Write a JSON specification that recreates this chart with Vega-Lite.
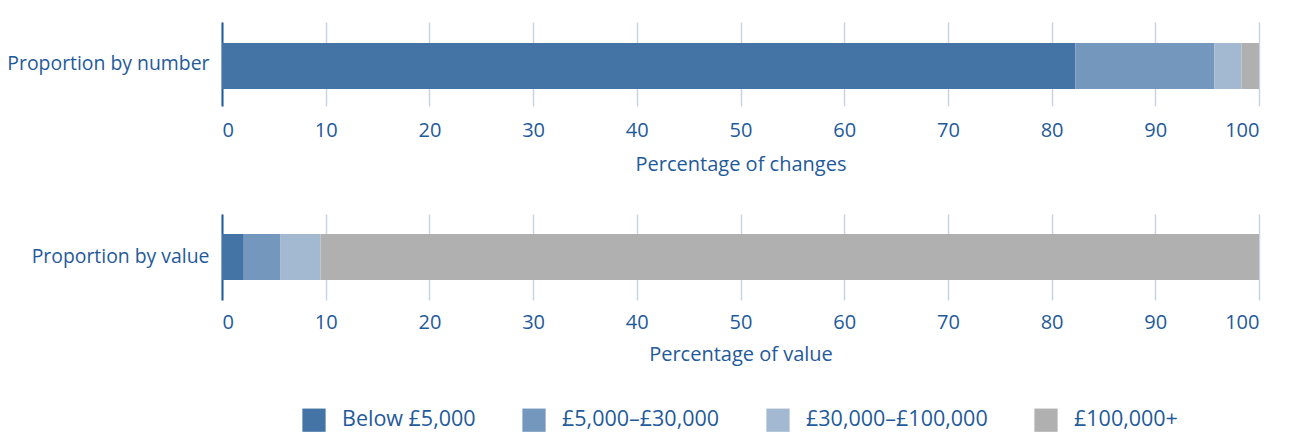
{
  "$schema": "https://vega.github.io/schema/vega-lite/v6.json",
  "padding": {"left": 6, "top": 22, "right": 10, "bottom": 2},
  "background": "white",
  "datasets": {
    "rows": [
      {"panel": "number", "label": "Proportion by number", "band": "Below £5,000", "order": 1, "pct": 82.3},
      {"panel": "number", "label": "Proportion by number", "band": "£5,000–£30,000", "order": 2, "pct": 13.4},
      {"panel": "number", "label": "Proportion by number", "band": "£30,000–£100,000", "order": 3, "pct": 2.6},
      {"panel": "number", "label": "Proportion by number", "band": "£100,000+", "order": 4, "pct": 1.7},
      {"panel": "value", "label": "Proportion by value", "band": "Below £5,000", "order": 1, "pct": 2.1},
      {"panel": "value", "label": "Proportion by value", "band": "£5,000–£30,000", "order": 2, "pct": 3.5},
      {"panel": "value", "label": "Proportion by value", "band": "£30,000–£100,000", "order": 3, "pct": 3.9},
      {"panel": "value", "label": "Proportion by value", "band": "£100,000+", "order": 4, "pct": 90.5}
    ]
  },
  "config": {
    "font": "Open Sans",
    "view": {"stroke": null},
    "concat": {"spacing": 40},
    "axis": {
      "labelColor": "#1f5a9a",
      "titleColor": "#1f5a9a",
      "labelFontSize": 20,
      "titleFontSize": 20,
      "titleFontWeight": "normal",
      "labelLimit": 400,
      "ticks": false
    },
    "legend": {
      "labelColor": "#1f5a9a",
      "labelFontSize": 21.5,
      "labelLimit": 400,
      "symbolType": "square",
      "symbolSize": 540,
      "symbolStrokeWidth": 0,
      "labelOffset": 16,
      "columnPadding": 46
    }
  },
  "vconcat": [
    {
      "width": 1037,
      "height": 84,
      "data": {"name": "rows"},
      "transform": [{"filter": "datum.panel === 'number'"}],
      "mark": {"type": "bar", "height": 46, "yOffset": 2},
      "encoding": {
        "y": {"field": "label", "type": "nominal", "axis": {"title": null, "domain": true, "domainColor": "#1f5a9a", "domainWidth": 2, "labelPadding": 13, "labelFontSize": 19.4, "grid": false}},
        "x": {"field": "pct", "type": "quantitative", "stack": "zero", "scale": {"domain": [0, 100], "nice": false}, "axis": {"title": "Percentage of changes", "values": [0,10,20,30,40,50,60,70,80,90,100], "grid": true, "gridColor": "#c6d4e4", "gridWidth": 1.5, "domain": false, "labelPadding": 14, "titlePadding": 14}},
        "color": {"field": "band", "type": "nominal", "sort": ["Below £5,000", "£5,000–£30,000", "£30,000–£100,000", "£100,000+"], "scale": {"domain": ["Below £5,000", "£5,000–£30,000", "£30,000–£100,000", "£100,000+"], "range": ["#4474a5", "#7397bd", "#a3b9d2", "#b0b0b0"]}, "legend": {"title": null, "orient": "none", "direction": "horizontal", "legendX": 80, "legendY": 386}},
        "order": {"field": "order", "type": "quantitative"}
      }
    },
    {
      "width": 1037,
      "height": 86,
      "data": {"name": "rows"},
      "transform": [{"filter": "datum.panel === 'value'"}],
      "mark": {"type": "bar", "height": 46},
      "encoding": {
        "y": {"field": "label", "type": "nominal", "axis": {"title": null, "domain": true, "domainColor": "#1f5a9a", "domainWidth": 2, "labelPadding": 13, "labelFontSize": 19.4, "grid": false}},
        "x": {"field": "pct", "type": "quantitative", "stack": "zero", "scale": {"domain": [0, 100], "nice": false}, "axis": {"title": "Percentage of value", "values": [0,10,20,30,40,50,60,70,80,90,100], "grid": true, "gridColor": "#c6d4e4", "gridWidth": 1.5, "domain": false, "labelPadding": 12, "titlePadding": 12}},
        "color": {"field": "band", "type": "nominal", "sort": ["Below £5,000", "£5,000–£30,000", "£30,000–£100,000", "£100,000+"], "scale": {"domain": ["Below £5,000", "£5,000–£30,000", "£30,000–£100,000", "£100,000+"], "range": ["#4474a5", "#7397bd", "#a3b9d2", "#b0b0b0"]}, "legend": {"title": null, "orient": "none", "direction": "horizontal", "legendX": 80, "legendY": 386}},
        "order": {"field": "order", "type": "quantitative"}
      }
    }
  ]
}
